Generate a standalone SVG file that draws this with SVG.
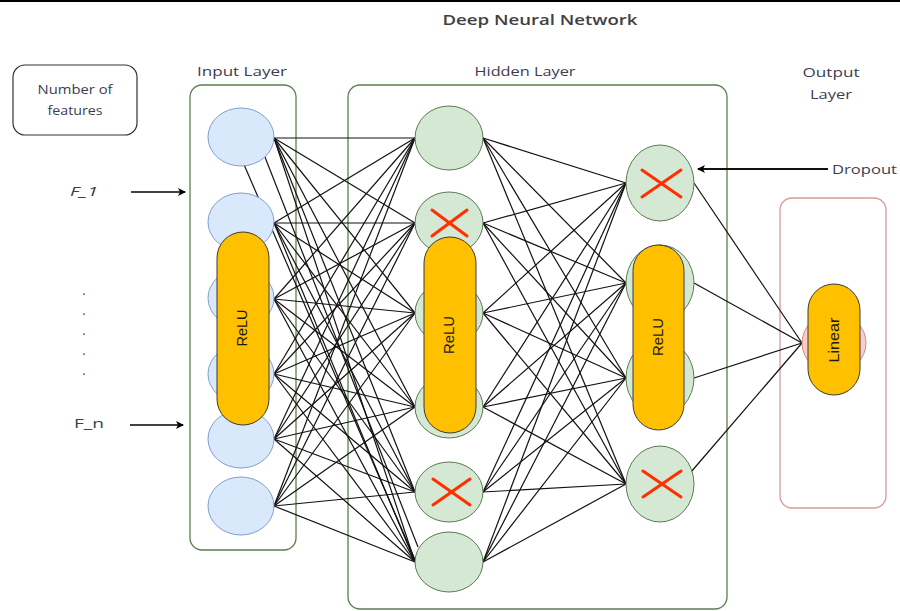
<svg xmlns="http://www.w3.org/2000/svg" width="900" height="611" viewBox="0 0 900 611">
<style>
.lbl{font-family:"Open Sans","DejaVu Sans",sans-serif;font-size:13px;fill:#3d3d52}
.title{font-family:"Open Sans","Liberation Sans",sans-serif;font-size:15px;font-weight:600;fill:#404040}
.inp{fill:#dae8fc;stroke:#7f9fcf;stroke-width:1}
.hid{fill:#d5e8d4;stroke:#5b7a52;stroke-width:1}
.outn{fill:#f8cecc;stroke:#d08a88;stroke-width:1}
.pill{fill:#ffc000;stroke:#3a3a3a;stroke-width:1}
.ptxt{font-family:"Liberation Sans",Arial,sans-serif;font-size:14px;fill:#1a1a1a}
.layer{fill:none;stroke:#5f7d50;stroke-width:1.3}
.cx{stroke:#ff3000;stroke-width:3;stroke-linecap:round}
#connectors line{stroke:#111;stroke-width:1.2}
.arr{stroke:#000;stroke-width:1.5;fill:none}
</style>
<defs>
<marker id="ah" markerWidth="8" markerHeight="8" refX="7" refY="4" orient="auto" markerUnits="userSpaceOnUse">
<path d="M0,0 L8,4 L0,8 L2,4 Z" fill="#000"/>
</marker>
</defs>
<rect x="0" y="0" width="900" height="611" fill="#fff"/>
<rect x="0" y="0" width="900" height="2" fill="#000"/>
<text class="title" x="540" y="25" text-anchor="middle" textLength="195" lengthAdjust="spacingAndGlyphs">Deep Neural Network</text>

<g id="features-box">
<rect x="13" y="65" width="124" height="70" rx="12" fill="#fff" stroke="#333" stroke-width="1.2"/>
<text class="lbl" x="75" y="94" text-anchor="middle" textLength="75" lengthAdjust="spacingAndGlyphs">Number of</text>
<text class="lbl" x="75" y="115" text-anchor="middle" textLength="55" lengthAdjust="spacingAndGlyphs">features</text>
</g>

<g id="feature-labels">
<text class="lbl" x="70" y="196" font-style="italic" textLength="28" lengthAdjust="spacingAndGlyphs">F_1</text>
<text class="lbl" x="74" y="428" textLength="30" lengthAdjust="spacingAndGlyphs">F_n</text>
<text class="lbl" x="84" y="295" text-anchor="middle">.</text>
<text class="lbl" x="84" y="315" text-anchor="middle">.</text>
<text class="lbl" x="84" y="335" text-anchor="middle">.</text>
<text class="lbl" x="84" y="355" text-anchor="middle">.</text>
<text class="lbl" x="84" y="375" text-anchor="middle">.</text>
<line class="arr" x1="131" y1="192" x2="185" y2="192" marker-end="url(#ah)"/>
<line class="arr" x1="130" y1="425" x2="183" y2="425" marker-end="url(#ah)"/>
</g>

<g id="input-layer">
<rect class="layer" x="190" y="85" width="106" height="465" rx="12"/>
<text class="lbl" x="242" y="76" text-anchor="middle" textLength="90" lengthAdjust="spacingAndGlyphs">Input Layer</text>
</g>
<g id="hidden-layer">
<rect class="layer" x="348" y="85" width="379" height="524" rx="12"/>
<text class="lbl" x="525" y="76" text-anchor="middle" textLength="101" lengthAdjust="spacingAndGlyphs">Hidden Layer</text>
</g>
<g id="output-layer">
<rect x="780" y="198" width="106" height="310" rx="12" fill="none" stroke="#d89a98" stroke-width="1.3"/>
<text class="lbl" x="831" y="77" text-anchor="middle" textLength="57" lengthAdjust="spacingAndGlyphs">Output</text>
<text class="lbl" x="831" y="99" text-anchor="middle" textLength="42" lengthAdjust="spacingAndGlyphs">Layer</text>
</g>

<g id="connectors">
<line x1="274" y1="138" x2="415" y2="138"/><line x1="274" y1="138" x2="415" y2="223"/><line x1="274" y1="138" x2="415" y2="313"/><line x1="274" y1="138" x2="415" y2="407"/><line x1="274" y1="138" x2="415" y2="492"/><line x1="274" y1="138" x2="415" y2="562"/>
<line x1="274" y1="223" x2="415" y2="138"/><line x1="274" y1="223" x2="415" y2="223"/><line x1="274" y1="223" x2="415" y2="313"/><line x1="274" y1="223" x2="415" y2="407"/><line x1="274" y1="223" x2="415" y2="492"/><line x1="274" y1="223" x2="415" y2="562"/>
<line x1="274" y1="299" x2="415" y2="138"/><line x1="274" y1="299" x2="415" y2="223"/><line x1="274" y1="299" x2="415" y2="313"/><line x1="274" y1="299" x2="415" y2="407"/><line x1="274" y1="299" x2="415" y2="492"/><line x1="274" y1="299" x2="415" y2="562"/>
<line x1="274" y1="374" x2="415" y2="138"/><line x1="274" y1="374" x2="415" y2="223"/><line x1="274" y1="374" x2="415" y2="313"/><line x1="274" y1="374" x2="415" y2="407"/><line x1="274" y1="374" x2="415" y2="492"/><line x1="274" y1="374" x2="415" y2="562"/>
<line x1="274" y1="439" x2="415" y2="138"/><line x1="274" y1="439" x2="415" y2="223"/><line x1="274" y1="439" x2="415" y2="313"/><line x1="274" y1="439" x2="415" y2="407"/><line x1="274" y1="439" x2="415" y2="492"/><line x1="274" y1="439" x2="415" y2="562"/>
<line x1="274" y1="506" x2="415" y2="138"/><line x1="274" y1="506" x2="415" y2="223"/><line x1="274" y1="506" x2="415" y2="313"/><line x1="274" y1="506" x2="415" y2="407"/><line x1="274" y1="506" x2="415" y2="492"/><line x1="274" y1="506" x2="415" y2="562"/>
<line x1="242" y1="160" x2="416" y2="562"/><line x1="263" y1="152" x2="418" y2="547"/>
<line x1="483" y1="138" x2="626" y2="183"/><line x1="483" y1="138" x2="626" y2="283"/><line x1="483" y1="138" x2="626" y2="378"/><line x1="483" y1="138" x2="626" y2="484"/>
<line x1="483" y1="223" x2="626" y2="183"/><line x1="483" y1="223" x2="626" y2="283"/><line x1="483" y1="223" x2="626" y2="378"/><line x1="483" y1="223" x2="626" y2="484"/>
<line x1="483" y1="313" x2="626" y2="183"/><line x1="483" y1="313" x2="626" y2="283"/><line x1="483" y1="313" x2="626" y2="378"/><line x1="483" y1="313" x2="626" y2="484"/>
<line x1="483" y1="407" x2="626" y2="183"/><line x1="483" y1="407" x2="626" y2="283"/><line x1="483" y1="407" x2="626" y2="378"/><line x1="483" y1="407" x2="626" y2="484"/>
<line x1="483" y1="492" x2="626" y2="183"/><line x1="483" y1="492" x2="626" y2="283"/><line x1="483" y1="492" x2="626" y2="378"/><line x1="483" y1="492" x2="626" y2="484"/>
<line x1="483" y1="562" x2="626" y2="183"/><line x1="483" y1="562" x2="626" y2="283"/><line x1="483" y1="562" x2="626" y2="378"/><line x1="483" y1="562" x2="626" y2="484"/>
<line x1="694" y1="183" x2="802" y2="343"/><line x1="694" y1="283" x2="802" y2="343"/><line x1="694" y1="378" x2="802" y2="343"/><line x1="691" y1="472" x2="802" y2="343"/>
<line class="arr" x1="828" y1="169" x2="698" y2="169" marker-end="url(#ah)" style="stroke-width:1.8"/>
</g>

<g id="input-nodes">
<g id="in1"><ellipse class="inp" cx="241" cy="137" rx="33" ry="29"/></g>
<g id="in2"><ellipse class="inp" cx="241" cy="222" rx="33" ry="29"/></g>
<g id="in3"><ellipse class="inp" cx="241" cy="298" rx="33" ry="29"/></g>
<g id="in4"><ellipse class="inp" cx="241" cy="374" rx="33" ry="29"/></g>
<g id="in5"><ellipse class="inp" cx="241" cy="439" rx="33" ry="29"/></g>
<g id="in6"><ellipse class="inp" cx="241" cy="506" rx="33" ry="29"/></g>
<g id="relu-input"><rect class="pill" x="217" y="232" width="52" height="193" rx="26"/>
<text class="ptxt" transform="translate(247,328) rotate(-90)" text-anchor="middle" textLength="37" lengthAdjust="spacingAndGlyphs">ReLU</text></g>
</g>

<g id="hidden1-nodes">
<g id="h1n1"><ellipse class="hid" cx="449" cy="138" rx="34" ry="32"/></g>
<g id="h1n2"><ellipse class="hid" cx="449" cy="223" rx="34" ry="31"/>
<line class="cx" x1="432" y1="210" x2="467" y2="236"/><line class="cx" x1="467" y1="210" x2="432" y2="236"/></g>
<g id="h1n3"><ellipse class="hid" cx="449" cy="313" rx="34" ry="31"/></g>
<g id="h1n4"><ellipse class="hid" cx="449" cy="407" rx="34" ry="31"/></g>
<g id="h1n5"><ellipse class="hid" cx="449" cy="492" rx="34" ry="30"/>
<line class="cx" x1="433" y1="479" x2="470" y2="505"/><line class="cx" x1="470" y1="479" x2="433" y2="505"/></g>
<g id="h1n6"><ellipse class="hid" cx="449" cy="562" rx="34" ry="30"/></g>
<g id="relu-hidden1"><rect class="pill" x="424" y="237" width="52" height="196" rx="26"/>
<text class="ptxt" transform="translate(454,335) rotate(-90)" text-anchor="middle" textLength="38" lengthAdjust="spacingAndGlyphs">ReLU</text></g>
</g>

<g id="hidden2-nodes">
<g id="h2n1"><ellipse class="hid" cx="660" cy="183" rx="34" ry="38"/>
<line class="cx" x1="642" y1="170" x2="681" y2="197"/><line class="cx" x1="681" y1="170" x2="642" y2="197"/></g>
<g id="h2n2"><ellipse class="hid" cx="660" cy="283" rx="34" ry="38"/></g>
<g id="h2n3"><ellipse class="hid" cx="660" cy="378" rx="34" ry="38"/></g>
<g id="h2n4"><ellipse class="hid" cx="660" cy="484" rx="34" ry="38"/>
<line class="cx" x1="643" y1="471" x2="681" y2="497"/><line class="cx" x1="681" y1="471" x2="643" y2="497"/></g>
<g id="relu-hidden2"><rect class="pill" x="633" y="245" width="51" height="185" rx="25.5"/>
<text class="ptxt" transform="translate(663,337) rotate(-90)" text-anchor="middle" textLength="38" lengthAdjust="spacingAndGlyphs">ReLU</text></g>
</g>

<g id="output-node">
<ellipse class="outn" cx="834" cy="343" rx="32" ry="30"/>
<rect class="pill" x="808" y="284" width="52" height="111" rx="26"/>
<text class="ptxt" transform="translate(839,340) rotate(-90)" text-anchor="middle" font-size="15" textLength="45" lengthAdjust="spacingAndGlyphs">Linear</text>
</g>

<g id="dropout-label">
<text class="lbl" x="832" y="174" textLength="65" lengthAdjust="spacingAndGlyphs">Dropout</text>
</g>
</svg>
